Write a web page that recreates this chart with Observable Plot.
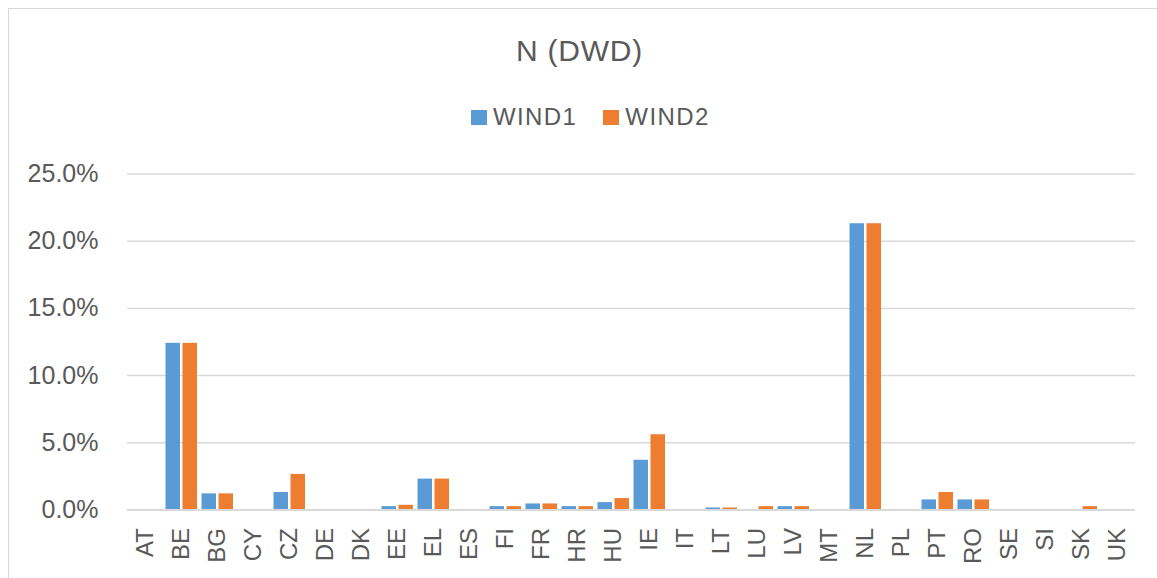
<!DOCTYPE html>
<html>
<head>
<meta charset="utf-8">
<script src="https://cdn.jsdelivr.net/npm/d3@7"></script>
<script src="https://cdn.jsdelivr.net/npm/@observablehq/plot@0.6"></script>
<style>
  html, body { margin: 0; padding: 0; background: #fff; }
  body { width: 1157px; height: 578px; position: relative; overflow: hidden; font-family: "Liberation Sans", sans-serif; color: #595959; }
  #frame { position: absolute; left: 8px; top: 8px; width: 1160px; height: 600px; border: 1px solid #d9d9d9; box-sizing: border-box; pointer-events: none; }
  #header { position: relative; height: 140px; }
  #title { position: absolute; left: 0; right: 0; top: 34px; text-align: center; font-size: 30px; letter-spacing: 0.8px; padding-left: 2px; }
  #legend { position: absolute; left: 471px; top: 103px; display: flex; align-items: center; font-size: 24px; letter-spacing: 1.4px; }
  .item { display: flex; align-items: center; margin-right: 26px; }
  .swatch { width: 16px; height: 15px; margin-right: 6px; }
  #chart svg { display: block; }
</style>
</head>
<body>
<div id="frame"></div>
<div id="header">
  <div id="title">N (DWD)</div>
  <div id="legend"></div>
</div>
<div id="chart"></div>
<script>
// Share per country for each wind scenario, in percent
const countries = ["AT", "BE", "BG", "CY", "CZ", "DE", "DK", "EE", "EL", "ES", "FI", "FR", "HR", "HU", "IE", "IT", "LT", "LU", "LV", "MT", "NL", "PL", "PT", "RO", "SE", "SI", "SK", "UK"];
const wind1 = [0, 12.4, 1.2, 0, 1.3, 0, 0, 0.25, 2.3, 0, 0.25, 0.45, 0.25, 0.55, 3.7, 0, 0.15, 0, 0.25, 0, 21.3, 0, 0.75, 0.75, 0, 0, 0, 0];
const wind2 = [0, 12.4, 1.2, 0, 2.65, 0, 0, 0.35, 2.3, 0, 0.25, 0.45, 0.25, 0.85, 5.6, 0, 0.15, 0.25, 0.25, 0, 21.3, 0, 1.3, 0.75, 0, 0, 0.25, 0];
const seriesNames = ["WIND1", "WIND2"];
const seriesColors = ["#5B9BD5", "#ED7D31"];
const yTicks = [0, 5, 10, 15, 20, 25];

const rows1 = countries.map((c, i) => ({country: c, value: wind1[i]}));
const rows2 = countries.map((c, i) => ({country: c, value: wind2[i]}));

// legend
const legend = document.getElementById("legend");
seriesNames.forEach((name, i) => {
  const item = document.createElement("div");
  item.className = "item";
  const sw = document.createElement("span");
  sw.className = "swatch";
  sw.style.background = seriesColors[i];
  const label = document.createElement("span");
  label.textContent = name;
  item.append(sw, label);
  legend.append(item);
});

const chart = Plot.plot({
  width: 1157,
  height: 438,
  marginTop: 33.5,
  marginBottom: 68.5,
  marginLeft: 127,
  marginRight: 22,
  style: {fontFamily: "Liberation Sans, sans-serif", fontSize: "24px", color: "#595959", background: "transparent", overflow: "visible"},
  x: {domain: countries, padding: 0, label: null},
  y: {domain: [0, 25], label: null},
  marks: [
    Plot.gridY(yTicks, {stroke: "#d9d9d9", strokeOpacity: 1, strokeWidth: 1.5}),
    Plot.barY(rows1, {x: "country", y: "value", fill: seriesColors[0], insetLeft: 2.5, insetRight: 19}),
    Plot.barY(rows2, {x: "country", y: "value", fill: seriesColors[1], insetLeft: 19.5, insetRight: 2}),
    Plot.ruleY([0], {stroke: "#d9d9d9", strokeWidth: 2}),
    Plot.axisY(yTicks, {tickSize: 0, tickPadding: 29, fontSize: 25, tickFormat: d => d.toFixed(1) + "%", label: null}),
    Plot.axisX({tickSize: 0, tickRotate: -90, tickPadding: 18, label: null})
  ]
});
document.getElementById("chart").append(chart);
</script>
</body>
</html>
